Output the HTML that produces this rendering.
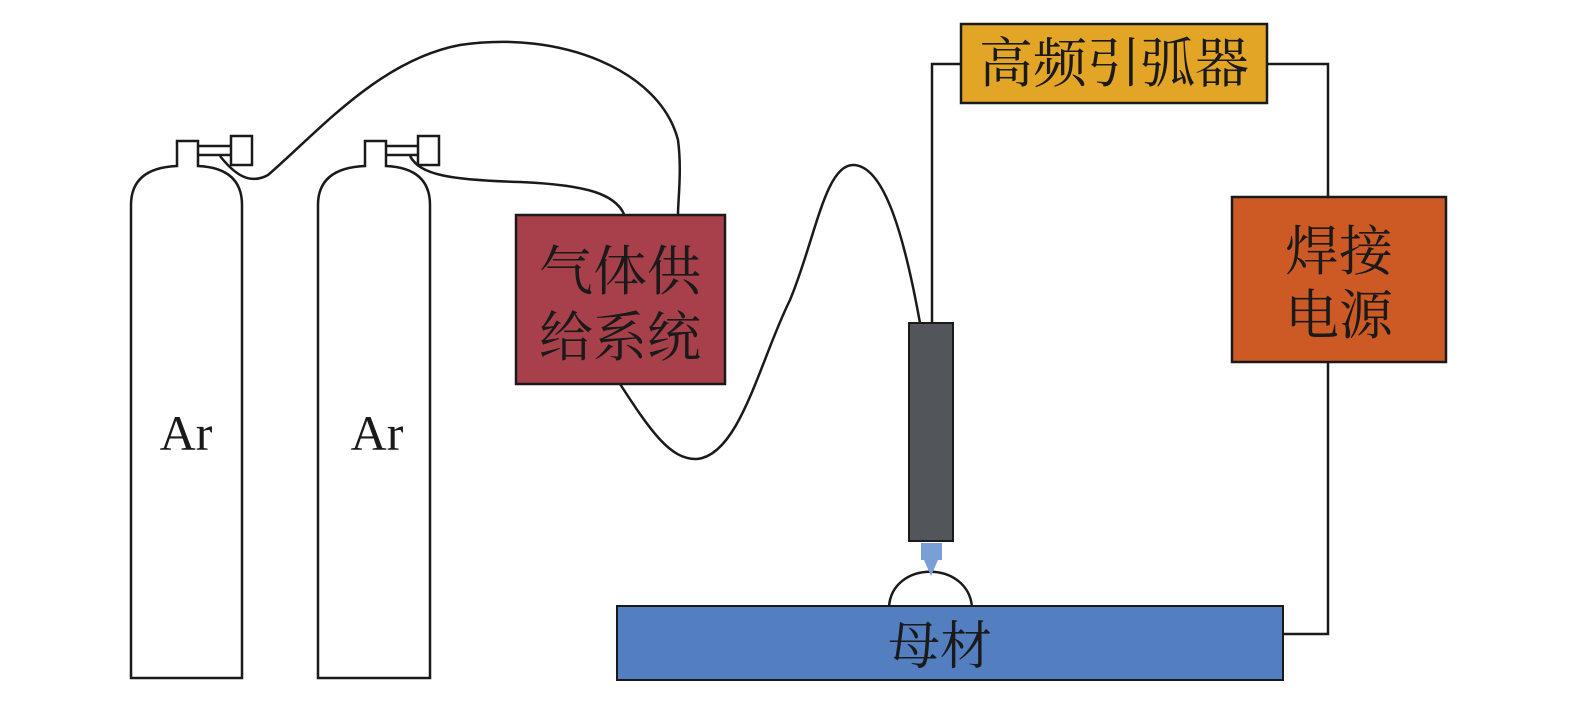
<!DOCTYPE html>
<html><head><meta charset="utf-8"><style>
html,body{margin:0;padding:0;background:#fff;}
svg{display:block;}
text{font-family:"Liberation Serif","Noto Serif CJK SC",serif;fill:#1a1a1a;}
</style></head><body>
<svg width="1575" height="711" viewBox="0 0 1575 711" xmlns="http://www.w3.org/2000/svg">
<g fill="none" stroke="#1a1a1a" stroke-width="2.5">
<!-- cylinder 1 -->
<path d="M131,678 L131,205 Q131,168 177,166 L177,141 L198,141 L198,166 Q242,168 242,205 L242,678 Z" fill="#fff"/>
<line x1="199" y1="146" x2="231" y2="146"/><line x1="199" y1="155" x2="231" y2="155"/>
<rect x="231" y="136" width="21" height="29" fill="#fff"/>
<!-- cylinder 2 -->
<path d="M318,678 L318,205 Q318,168 365,166 L365,141 L386,141 L386,166 Q430,168 430,205 L430,678 Z" fill="#fff"/>
<line x1="387" y1="146" x2="418" y2="146"/><line x1="387" y1="155" x2="418" y2="155"/>
<rect x="418" y="136" width="21" height="29" fill="#fff"/>
<!-- hoses -->
<path d="M220,156 C235,175 250,185 268,175 C320,130 380,60 460,45 C560,30 660,70 678,140 C682,170 678,200 678,214"/>
<path d="M410,156 C420,175 450,180 520,182 C590,185 615,195 624,214"/>
<path d="M620,384 C650,430 670,460 697,459 C740,455 760,360 790,300 C815,240 825,165 853,165 C885,165 905,240 920,323"/>
<!-- wires -->
<polyline points="932,323 932,64 961,64"/>
<polyline points="1267,64 1328,64 1328,197"/>
<polyline points="1328,362 1328,634 1283,634"/>
<!-- arc -->
<path d="M889,607 C892,560 968,560 972,607"/>
</g>
<!-- torch -->
<rect x="909" y="323" width="44" height="218" fill="#52555a" stroke="#1a1a1a" stroke-width="2"/>
<polygon points="921,543 942,543 942,560 938,560 931,576 924,560 921,560" fill="#7a9fd6"/>
<!-- boxes -->
<rect x="516" y="215" width="209" height="169" fill="#a8404c" stroke="#1a1a1a" stroke-width="2.5"/>
<text x="620" y="290" font-size="54" text-anchor="middle">气体供</text>
<text x="620" y="356" font-size="54" text-anchor="middle">给系统</text>
<rect x="961" y="24" width="306" height="79" fill="#e3a526" stroke="#1a1a1a" stroke-width="2.5"/>
<text x="1114" y="82" font-size="54" text-anchor="middle">高频引弧器</text>
<rect x="1232" y="197" width="214" height="165" fill="#cd5a25" stroke="#1a1a1a" stroke-width="2.5"/>
<text x="1339" y="270" font-size="54" text-anchor="middle">焊接</text>
<text x="1339" y="334" font-size="54" text-anchor="middle">电源</text>
<rect x="617" y="606" width="666" height="74" fill="#537ec0" stroke="#1a1a1a" stroke-width="2"/>
<text x="940" y="664" font-size="52" text-anchor="middle">母材</text>
<text x="186" y="450" font-size="50" text-anchor="middle">Ar</text>
<text x="377" y="450" font-size="50" text-anchor="middle">Ar</text>
</svg>
</body></html>
